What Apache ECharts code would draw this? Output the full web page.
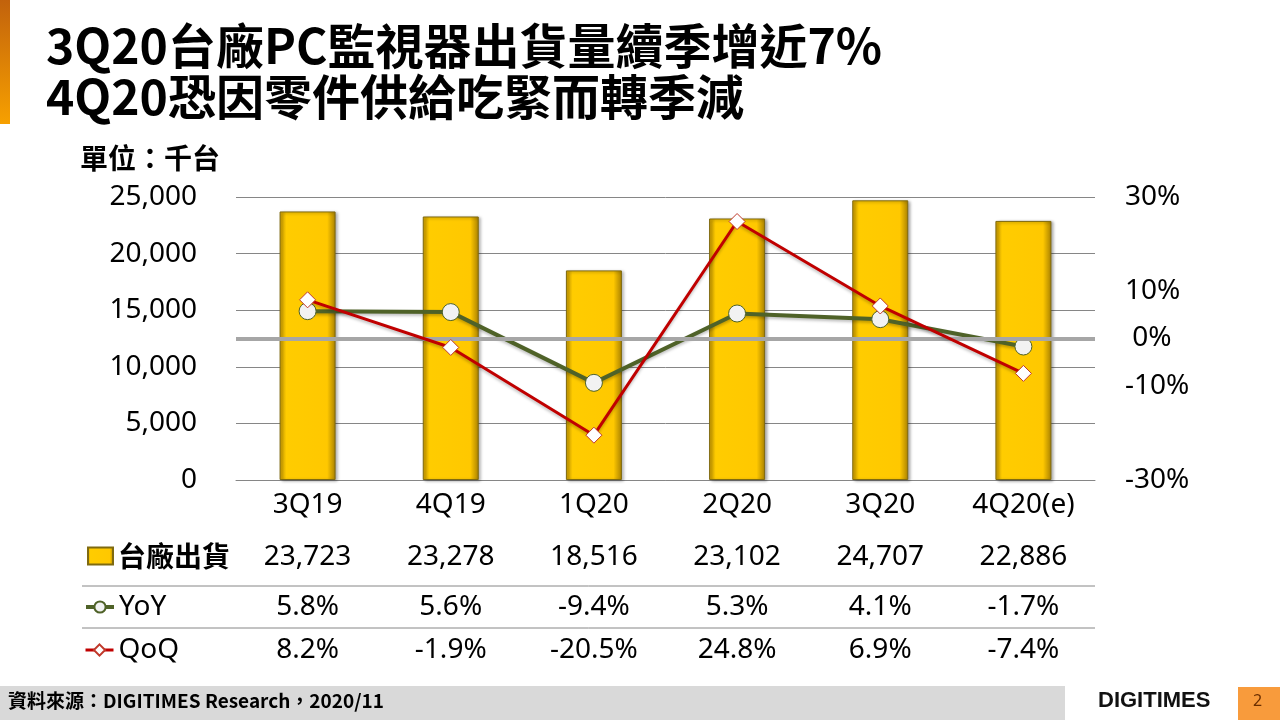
<!DOCTYPE html>
<html>
<head>
<meta charset="utf-8">
<script src="https://cdn.jsdelivr.net/npm/echarts@6/dist/echarts.min.js"></script>
<style>
  html, body { margin: 0; padding: 0; background: #fff; }
  #chart { width: 1280px; height: 720px; }
</style>
</head>
<body>
<div id="chart"></div>
<script>
// 季度
var quarters = ['3Q19', '4Q19', '1Q20', '2Q20', '3Q20', '4Q20(e)'];
// 台廠出貨 (千台)
var shipments = [23723, 23278, 18516, 23102, 24707, 22886];
// 年增率 / 季增率 (%)
var yoy = [5.8, 5.6, -9.4, 5.3, 4.1, -1.7];
var qoq = [8.2, -1.9, -20.5, 24.8, 6.9, -7.4];
// 右軸只顯示這些刻度
var rightTicks = [30, 10, 0, -10, -30];

var FONT = "'Noto Sans', 'Noto Sans CJK TC', sans-serif";
var CJK = "'Noto Sans CJK TC', 'Noto Sans', sans-serif";

function fmtNum(v) {
    return String(v).replace(/\B(?=(\d{3})+(?!\d))/g, ',');
}
function fmtPct(v) {
    return v.toFixed(1) + '%';
}

// 表格列 (用額外的 x 軸對齊每個季度)
function tableAxis(labels, offset) {
    return {
        type: 'category',
        gridIndex: 0,
        position: 'bottom',
        offset: offset,
        data: labels,
        axisLine: { show: false },
        axisTick: { show: false },
        axisLabel: { margin: 11, fontSize: 28, color: '#000', fontFamily: FONT, interval: 0 }
    };
}

var myChart = echarts.init(document.getElementById('chart'));

var barColor = new echarts.graphic.LinearGradient(0, 0, 1, 0, [
    { offset: 0, color: '#C99A00' },
    { offset: 0.12, color: '#FFCC00' },
    { offset: 0.85, color: '#FFC800' },
    { offset: 1, color: '#A88000' }
]);

var option = {
    backgroundColor: '#fff',
    title: {
        text: '3Q20台廠PC監視器出貨量續季增近7%\n4Q20恐因零件供給吃緊而轉季減',
        left: 46,
        top: 20,
        padding: 0,
        textStyle: {
            fontFamily: CJK,
            fontSize: 48,
            fontWeight: 'bold',
            lineHeight: 51,
            color: '#000'
        }
    },
    legend: [
        {
            data: [{ name: '台廠出貨', icon: 'rect' }], left: 87, top: 542, padding: 0,
            itemWidth: 25, itemHeight: 17, itemGap: 4,
            textStyle: { fontSize: 28, fontWeight: 'bold', fontFamily: CJK, color: '#000' }
        },
        {
            data: ['YoY'], left: 84, top: 593, padding: 0,
            itemWidth: 28, itemHeight: 14,
            lineStyle: { width: 4 },
            textStyle: { fontSize: 28, fontFamily: FONT, color: '#000' }
        },
        {
            data: ['QoQ'], left: 84, top: 636, padding: 0,
            itemWidth: 28, itemHeight: 14,
            lineStyle: { width: 3 },
            textStyle: { fontSize: 28, fontFamily: FONT, color: '#000' }
        }
    ],
    grid: { left: 236, right: 185, top: 197, bottom: 240 },
    xAxis: [
        {
            type: 'category',
            data: quarters,
            axisLine: { lineStyle: { color: '#868686', width: 1 } },
            axisTick: { show: false },
            axisLabel: { margin: 11, fontSize: 28, color: '#000', fontFamily: FONT, interval: 0 }
        },
        tableAxis(shipments.map(fmtNum), 52),
        tableAxis(yoy.map(fmtPct), 102),
        tableAxis(qoq.map(fmtPct), 145)
    ],
    yAxis: [
        {
            type: 'value',
            min: 0,
            max: 25000,
            interval: 5000,
            axisLine: { show: false },
            axisTick: { show: false },
            splitLine: { lineStyle: { color: '#868686', width: 1 } },
            axisLabel: {
                margin: 39, fontSize: 28, color: '#000', fontFamily: FONT,
                formatter: function (v) { return fmtNum(v); }
            }
        },
        {
            type: 'value',
            min: -30,
            max: 30,
            interval: 10,
            axisLine: { show: false },
            axisTick: { show: false },
            splitLine: { show: false },
            axisLabel: {
                margin: 30, fontSize: 28, color: '#000', fontFamily: FONT,
                formatter: function (v) {
                    if (rightTicks.indexOf(v) < 0) return '';
                    return (v === 0 ? ' ' : '') + v + '%';
                }
            }
        }
    ],
    series: [
        {
            name: '台廠出貨',
            type: 'bar',
            barWidth: 56,
            data: shipments,
            itemStyle: {
                color: barColor,
                borderColor: '#7F6A10',
                borderWidth: 1,
                shadowColor: 'rgba(0,0,0,0.35)',
                shadowBlur: 3,
                shadowOffsetX: 2,
                shadowOffsetY: 1
            },
            z: 2
        },
        {
            // 0% 基準線
            name: 'zero',
            type: 'line',
            yAxisIndex: 1,
            data: [],
            z: 3,
            markLine: {
                silent: true,
                symbol: 'none',
                label: { show: false },
                lineStyle: { color: '#A6A6A6', width: 4, type: 'solid' },
                data: [{ yAxis: 0 }]
            }
        },
        {
            name: 'YoY',
            type: 'line',
            yAxisIndex: 1,
            data: yoy,
            symbol: 'circle',
            symbolSize: 17,
            lineStyle: {
                color: '#4F6228', width: 4,
                shadowColor: 'rgba(0,0,0,0.25)', shadowBlur: 3, shadowOffsetY: 2
            },
            itemStyle: { color: '#F2F2F2', borderColor: '#4F6228', borderWidth: 1 },
            z: 4
        },
        {
            name: 'QoQ',
            type: 'line',
            yAxisIndex: 1,
            data: qoq,
            symbol: 'diamond',
            symbolSize: 16,
            lineStyle: {
                color: '#C00000', width: 3,
                shadowColor: 'rgba(0,0,0,0.25)', shadowBlur: 3, shadowOffsetY: 2
            },
            itemStyle: { color: '#FFFFFF', borderColor: '#C0392B', borderWidth: 1 },
            z: 5
        }
    ],
    graphic: [
        // 左側橘色條
        {
            type: 'rect',
            shape: { x: 0, y: 0, width: 10, height: 124 },
            style: {
                fill: new echarts.graphic.LinearGradient(0, 0, 0, 1, [
                    { offset: 0, color: '#C2620C' },
                    { offset: 1, color: '#F7A000' }
                ])
            }
        },
        {
            type: 'text',
            left: 80,
            top: 144,
            style: { text: '單位：千台', font: 'bold 28px ' + CJK, fill: '#000' }
        },
        // 表格分隔線
        {
            type: 'line',
            shape: { x1: 82, y1: 586, x2: 1095, y2: 586 },
            style: { stroke: '#868686', lineWidth: 1 }
        },
        {
            type: 'line',
            shape: { x1: 82, y1: 628, x2: 1095, y2: 628 },
            style: { stroke: '#868686', lineWidth: 1 }
        },
        // 頁尾
        {
            type: 'rect',
            shape: { x: 0, y: 686, width: 1065, height: 34 },
            style: { fill: '#D9D9D9' }
        },
        {
            type: 'text',
            left: 8,
            top: 691,
            style: { text: '資料來源：DIGITIMES Research，2020/11', font: 'bold 19px ' + CJK, fill: '#000' }
        },
        {
            type: 'text',
            left: 1098,
            top: 690,
            style: { text: 'DIGITIMES', font: 'bold 22px "Liberation Sans", Arial, sans-serif', fill: '#111' }
        },
        {
            type: 'rect',
            shape: { x: 1238, y: 687, width: 42, height: 33 },
            style: { fill: '#F89B3C' }
        },
        {
            type: 'text',
            left: 1253,
            top: 693,
            style: { text: '2', font: '16px ' + FONT, fill: '#6B2E00' }
        }
    ]
};

myChart.setOption(option);
</script>
</body>
</html>
